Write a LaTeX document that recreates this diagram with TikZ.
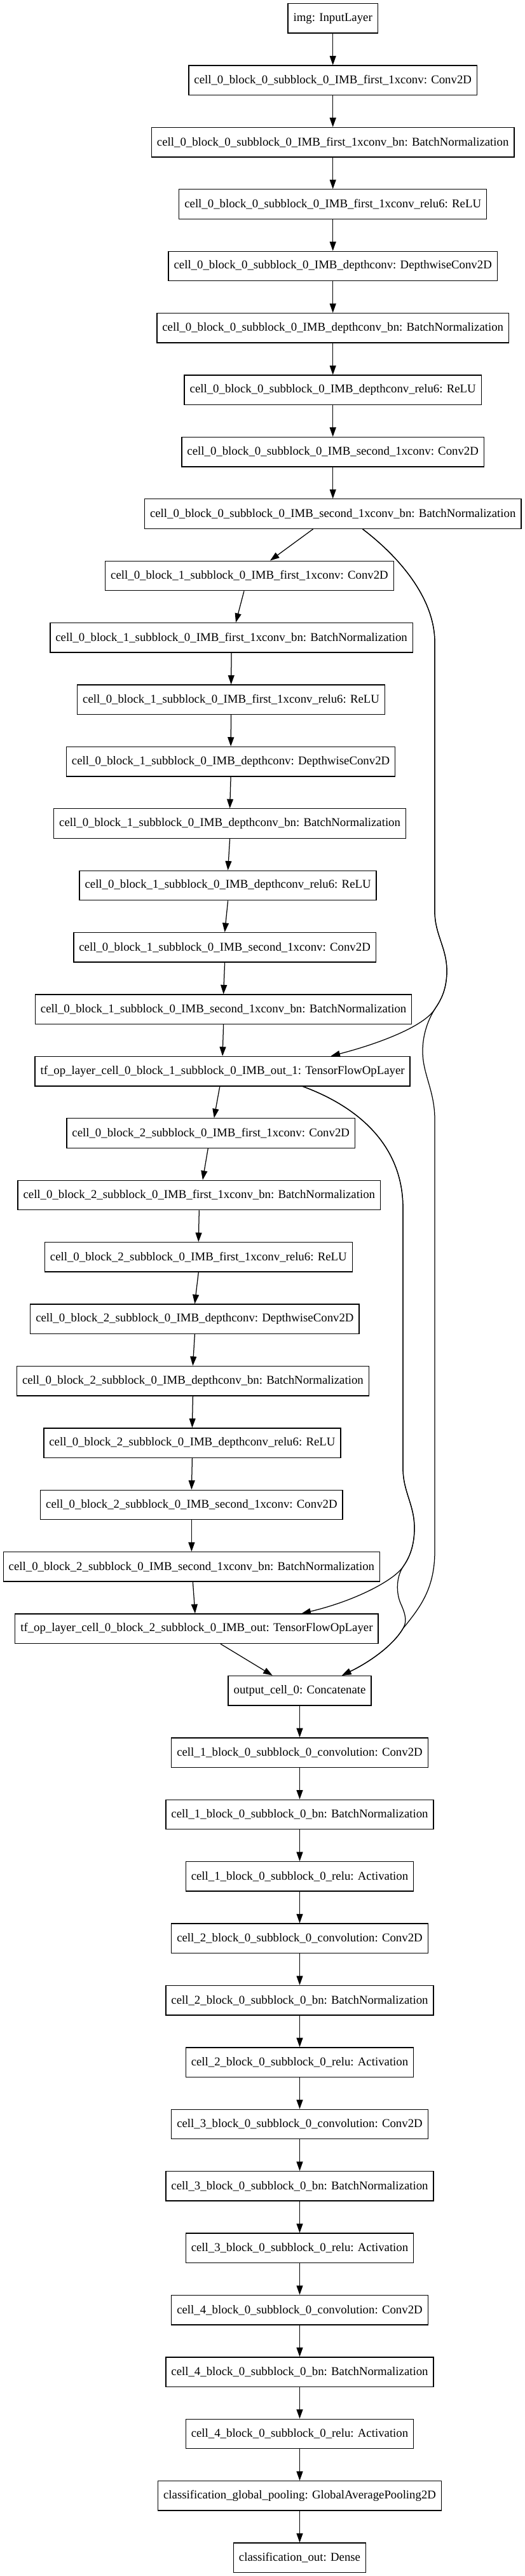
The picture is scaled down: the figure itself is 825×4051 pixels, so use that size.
\documentclass[tikz,border=0pt]{standalone}
\usepackage{fontspec}
\setmainfont{Liberation Serif}
\usetikzlibrary{arrows.meta}
\newcommand\cbp[1]{cell\_0\_block\_#1\_subblock\_0\_IMB\_}
\begin{document}
\begin{tikzpicture}[
  layer/.style={draw=black, line width=1.35pt, rectangle, minimum height=46.5pt,
    inner xsep=8.5pt, inner ysep=0pt, font=\fontsize{18.8pt}{22pt}\selectfont, text=black},
  edge/.style={draw=black, line width=1.25pt, -{Triangle[length=14.5pt,width=10pt]}},
]
\useasboundingbox (0pt,0pt) rectangle (825pt,-4051pt);
\fill[white] (0pt,0pt) rectangle (825pt,-4051pt);
% cell 0 block 0
\node[layer] (n0) at (523.7pt,-28.85pt) {img: InputLayer};
\node[layer] (n1) at (523.7pt,-126.25pt) {\cbp{0}first\_1xconv: Conv2D};
\node[layer] (n2) at (523.7pt,-223.65pt) {\cbp{0}first\_1xconv\_bn: BatchNormalization};
\node[layer] (n3) at (523.7pt,-321.05pt) {\cbp{0}first\_1xconv\_relu6: ReLU};
\node[layer] (n4) at (523.7pt,-418.45pt) {\cbp{0}depthconv: DepthwiseConv2D};
\node[layer] (n5) at (523.7pt,-515.85pt) {\cbp{0}depthconv\_bn: BatchNormalization};
\node[layer] (n6) at (523.7pt,-613.25pt) {\cbp{0}depthconv\_relu6: ReLU};
\node[layer] (n7) at (523.7pt,-710.65pt) {\cbp{0}second\_1xconv: Conv2D};
\node[layer] (n8) at (523.7pt,-808.05pt) {\cbp{0}second\_1xconv\_bn: BatchNormalization};
% block 1
\node[layer] (n9) at (392.5pt,-905.45pt) {\cbp{1}first\_1xconv: Conv2D};
\node[layer] (n10) at (364.1pt,-1002.85pt) {\cbp{1}first\_1xconv\_bn: BatchNormalization};
\node[layer] (n11) at (363.6pt,-1100.25pt) {\cbp{1}first\_1xconv\_relu6: ReLU};
\node[layer] (n12) at (363.1pt,-1197.65pt) {\cbp{1}depthconv: DepthwiseConv2D};
\node[layer] (n13) at (361.6pt,-1295.05pt) {\cbp{1}depthconv\_bn: BatchNormalization};
\node[layer] (n14) at (358.6pt,-1392.45pt) {\cbp{1}depthconv\_relu6: ReLU};
\node[layer] (n15) at (353.6pt,-1489.85pt) {\cbp{1}second\_1xconv: Conv2D};
\node[layer] (n16) at (351.6pt,-1587.25pt) {\cbp{1}second\_1xconv\_bn: BatchNormalization};
\node[layer] (n17) at (350.1pt,-1684.65pt) {tf\_op\_layer\_\cbp{1}out\_1: TensorFlowOpLayer};
% block 2
\node[layer] (n18) at (331.7pt,-1782.05pt) {\cbp{2}first\_1xconv: Conv2D};
\node[layer] (n19) at (313.3pt,-1879.45pt) {\cbp{2}first\_1xconv\_bn: BatchNormalization};
\node[layer] (n20) at (312.3pt,-1976.85pt) {\cbp{2}first\_1xconv\_relu6: ReLU};
\node[layer] (n21) at (306.4pt,-2074.25pt) {\cbp{2}depthconv: DepthwiseConv2D};
\node[layer] (n22) at (303.4pt,-2171.65pt) {\cbp{2}depthconv\_bn: BatchNormalization};
\node[layer] (n23) at (302.4pt,-2269.05pt) {\cbp{2}depthconv\_relu6: ReLU};
\node[layer] (n24) at (301.4pt,-2366.45pt) {\cbp{2}second\_1xconv: Conv2D};
\node[layer] (n25) at (301.4pt,-2463.85pt) {\cbp{2}second\_1xconv\_bn: BatchNormalization};
\node[layer] (n26) at (309.4pt,-2561.25pt) {tf\_op\_layer\_\cbp{2}out: TensorFlowOpLayer};
% tail
\node[layer] (n27) at (471.5pt,-2658.65pt) {output\_cell\_0: Concatenate};
\node[layer] (n28) at (471.5pt,-2756.05pt) {cell\_1\_block\_0\_subblock\_0\_convolution: Conv2D};
\node[layer] (n29) at (471.5pt,-2853.45pt) {cell\_1\_block\_0\_subblock\_0\_bn: BatchNormalization};
\node[layer] (n30) at (471.5pt,-2950.85pt) {cell\_1\_block\_0\_subblock\_0\_relu: Activation};
\node[layer] (n31) at (471.5pt,-3048.25pt) {cell\_2\_block\_0\_subblock\_0\_convolution: Conv2D};
\node[layer] (n32) at (471.5pt,-3145.65pt) {cell\_2\_block\_0\_subblock\_0\_bn: BatchNormalization};
\node[layer] (n33) at (471.5pt,-3243.05pt) {cell\_2\_block\_0\_subblock\_0\_relu: Activation};
\node[layer] (n34) at (471.5pt,-3340.45pt) {cell\_3\_block\_0\_subblock\_0\_convolution: Conv2D};
\node[layer] (n35) at (471.5pt,-3437.85pt) {cell\_3\_block\_0\_subblock\_0\_bn: BatchNormalization};
\node[layer] (n36) at (471.5pt,-3535.25pt) {cell\_3\_block\_0\_subblock\_0\_relu: Activation};
\node[layer] (n37) at (471.5pt,-3632.65pt) {cell\_4\_block\_0\_subblock\_0\_convolution: Conv2D};
\node[layer] (n38) at (471.5pt,-3730.05pt) {cell\_4\_block\_0\_subblock\_0\_bn: BatchNormalization};
\node[layer] (n39) at (471.5pt,-3827.45pt) {cell\_4\_block\_0\_subblock\_0\_relu: Activation};
\node[layer] (n40) at (471.5pt,-3924.85pt) {classification\_global\_pooling: GlobalAveragePooling2D};
\node[layer] (n41) at (471.5pt,-4022.25pt) {classification\_out: Dense};
% straight connectors
\foreach \a/\b in {n0/n1,n1/n2,n2/n3,n3/n4,n4/n5,n5/n6,n6/n7,n7/n8,
  n10/n11,n11/n12,n12/n13,n13/n14,n14/n15,n15/n16,n16/n17,
  n19/n20,n20/n21,n21/n22,n22/n23,n23/n24,n24/n25,
  n27/n28,n28/n29,n29/n30,n30/n31,n31/n32,n32/n33,n33/n34,n34/n35,
  n35/n36,n36/n37,n37/n38,n38/n39,n39/n40,n40/n41}
  \draw[edge] (\a.south) -- (\b.north);
\draw[edge] ([xshift=-31.1pt]n8.south) -- ([xshift=32.5pt]n9.north);
\draw[edge] ([xshift=-8.5pt]n9.south) -- ([xshift=6.9pt]n10.north);
\draw[edge] ([xshift=-4.3pt]n17.south) -- ([xshift=5.1pt]n18.north);
\draw[edge] ([xshift=-4.4pt]n18.south) -- ([xshift=5.6pt]n19.north);
\draw[edge] ([xshift=2pt]n25.south) -- ([xshift=-2.5pt]n26.north);
\draw[edge] ([xshift=37.6pt]n26.south) -- ([xshift=-42.8pt]n27.north);
% skip connectors from block 0
\draw[edge] ([xshift=46.8pt]n8.south) .. controls (627pt,-875pt) and (684pt,-940pt) .. (684pt,-1010pt)
  -- (684pt,-1433pt) .. controls (684pt,-1470pt) and (703pt,-1490pt) .. (703pt,-1527pt)
  .. controls (703pt,-1560pt) and (690.5pt,-1577pt) .. (684pt,-1587pt)
  .. controls (667pt,-1614pt) and (597pt,-1641pt) .. ([xshift=170.4pt]n17.north);
\draw[edge] ([xshift=46.8pt]n8.south) .. controls (627pt,-875pt) and (684pt,-940pt) .. (684pt,-1010pt)
  -- (684pt,-1433pt) .. controls (684pt,-1470pt) and (703pt,-1490pt) .. (703pt,-1527pt)
  .. controls (703pt,-1560pt) and (690.5pt,-1577pt) .. (684pt,-1587pt)
  .. controls (669pt,-1611pt) and (663pt,-1639pt) .. (665.5pt,-1664pt)
  .. controls (668.5pt,-1694pt) and (684pt,-1720pt) .. (684pt,-1760pt)
  -- (684pt,-2440pt) .. controls (684pt,-2500pt) and (659pt,-2530pt) .. (634pt,-2561pt)
  .. controls (617pt,-2590pt) and (577pt,-2616pt) .. ([xshift=66.5pt]n27.north);
% skip connectors from block 1
\draw[edge] ([xshift=126.4pt]n17.south) .. controls (562pt,-1740pt) and (634pt,-1800pt) .. (634pt,-1900pt)
  -- (634pt,-2309pt) .. controls (634pt,-2346pt) and (652pt,-2366pt) .. (652pt,-2403pt)
  .. controls (652pt,-2436pt) and (641pt,-2454pt) .. (634pt,-2464pt)
  .. controls (619pt,-2486pt) and (557pt,-2518pt) .. ([xshift=165.1pt]n26.north);
\draw[edge] ([xshift=126.4pt]n17.south) .. controls (562pt,-1740pt) and (634pt,-1800pt) .. (634pt,-1900pt)
  -- (634pt,-2309pt) .. controls (634pt,-2346pt) and (652pt,-2366pt) .. (652pt,-2403pt)
  .. controls (652pt,-2436pt) and (641pt,-2454pt) .. (634pt,-2464pt)
  .. controls (623pt,-2481pt) and (623pt,-2506pt) .. (631pt,-2523pt)
  .. controls (639pt,-2541pt) and (640pt,-2551pt) .. (634pt,-2561pt)
  .. controls (617pt,-2590pt) and (577pt,-2616pt) .. ([xshift=66.5pt]n27.north);
\end{tikzpicture}
\end{document}
